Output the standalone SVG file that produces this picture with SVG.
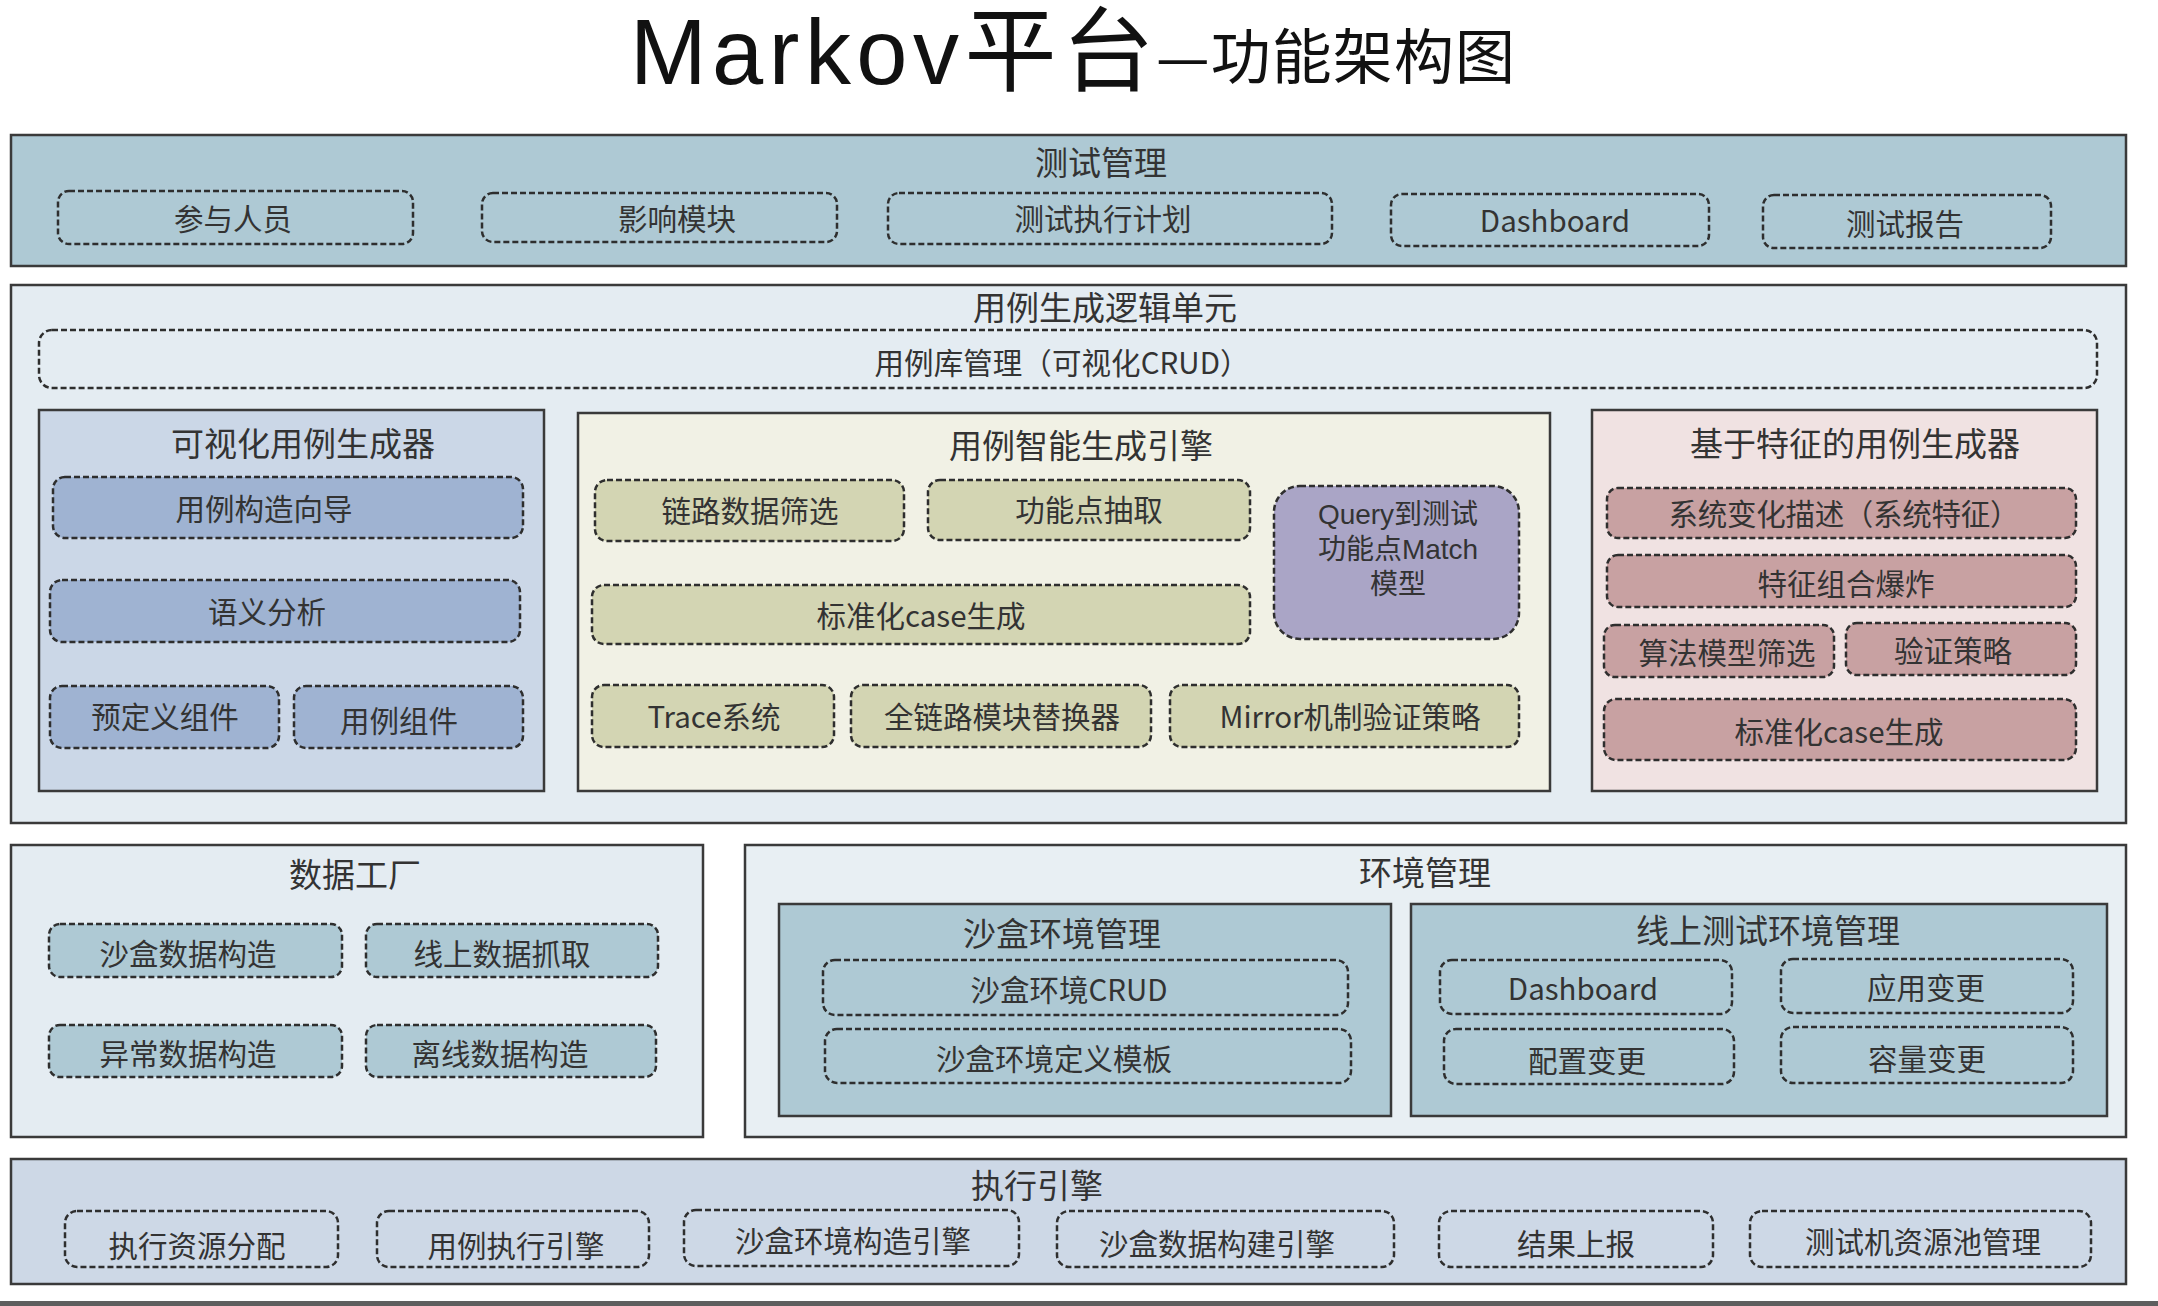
<svg xmlns="http://www.w3.org/2000/svg" width="2158" height="1306" viewBox="0 0 2158 1306">
<style>
.sec{stroke:#3a3a3a;stroke-width:2.5}
.it{stroke:#2e2e2e;stroke-width:2.5;stroke-dasharray:6 3}
.t{font-family:"Noto Sans CJK SC","Noto Sans",sans-serif;fill:#333;text-anchor:middle;dominant-baseline:central}
.h{font-size:33px}
.i{font-size:29.5px}
.q{font-size:28px;font-family:"Liberation Sans","Noto Sans CJK SC",sans-serif}
.blue{fill:#aec9d4}
.lite{fill:#e4ecf2}
.vb{fill:#9fb3d2}
.ol{fill:#d3d5b3}
.pk{fill:#c8a1a2}
.none{fill:none}
</style>
<rect x="0" y="0" width="2158" height="1306" fill="#ffffff"/>
<g id="title">
<text x="630" y="84" font-family="'Liberation Sans','Noto Sans CJK SC',sans-serif" font-size="92" fill="#111" textLength="524">Markov平台</text>
<text x="1156" y="79" font-family="'Noto Sans CJK SC','Noto Sans',sans-serif" font-size="60" fill="#111" textLength="359">—功能架构图</text>
</g>

<g id="test-mgmt">
<rect class="sec blue" x="11" y="135" width="2115" height="131"/>
<text class="t h" x="1101" y="161">测试管理</text>
<g id="tm-1"><rect class="it none" x="58" y="191" width="355" height="53" rx="11"/><text class="t i" x="233" y="217">参与人员</text></g>
<g id="tm-2"><rect class="it none" x="482" y="193" width="355" height="49" rx="11"/><text class="t i" x="677" y="217">影响模块</text></g>
<g id="tm-3"><rect class="it none" x="888" y="193" width="444" height="51" rx="11"/><text class="t i" x="1103" y="217">测试执行计划</text></g>
<g id="tm-4"><rect class="it none" x="1391" y="194" width="318" height="52" rx="11"/><text class="t i" x="1555" y="219">Dashboard</text></g>
<g id="tm-5"><rect class="it none" x="1763" y="195" width="288" height="53" rx="11"/><text class="t i" x="1905" y="222">测试报告</text></g>
</g>

<g id="case-gen">
<rect class="sec lite" x="11" y="285" width="2115" height="538"/>
<text class="t h" x="1105" y="306">用例生成逻辑单元</text>
<g id="case-lib"><rect class="it none" x="39" y="330" width="2058" height="58" rx="13"/><text class="t i" x="1062" y="361" textLength="375">用例库管理（可视化CRUD）</text></g>

<g id="visual-gen">
<rect class="sec" fill="#cbd7e7" x="39" y="410" width="505" height="381"/>
<text class="t h" x="303" y="442">可视化用例生成器</text>
<g id="vg-1"><rect class="it vb" x="53" y="477" width="470" height="61" rx="12"/><text class="t i" x="264" y="507">用例构造向导</text></g>
<g id="vg-2"><rect class="it vb" x="50" y="580" width="470" height="62" rx="12"/><text class="t i" x="267" y="610">语义分析</text></g>
<g id="vg-3"><rect class="it vb" x="50" y="686" width="229" height="62" rx="12"/><text class="t i" x="165" y="715">预定义组件</text></g>
<g id="vg-4"><rect class="it vb" x="294" y="686" width="229" height="62" rx="12"/><text class="t i" x="399" y="719">用例组件</text></g>
</g>

<g id="smart-gen">
<rect class="sec" fill="#f1f1e5" x="578" y="413" width="972" height="378"/>
<text class="t h" x="1081" y="444">用例智能生成引擎</text>
<g id="sg-1"><rect class="it ol" x="595" y="480" width="309" height="61" rx="12"/><text class="t i" x="750" y="509">链路数据筛选</text></g>
<g id="sg-2"><rect class="it ol" x="928" y="480" width="322" height="60" rx="12"/><text class="t i" x="1089" y="508">功能点抽取</text></g>
<g id="sg-3"><rect class="it ol" x="592" y="585" width="658" height="59" rx="12"/><text class="t i" x="921" y="614">标准化case生成</text></g>
<g id="sg-4"><rect class="it" fill="#aaa5c6" x="1274" y="486" width="245" height="153" rx="26"/>
<text class="t q" x="1398" y="514"><tspan x="1398" y="514">Query到测试</tspan><tspan x="1398" y="549">功能点Match</tspan><tspan x="1398" y="584">模型</tspan></text></g>
<g id="sg-5"><rect class="it ol" x="592" y="685" width="242" height="62" rx="12"/><text class="t i" x="714" y="715">Trace系统</text></g>
<g id="sg-6"><rect class="it ol" x="851" y="685" width="300" height="62" rx="12"/><text class="t i" x="1002" y="715">全链路模块替换器</text></g>
<g id="sg-7"><rect class="it ol" x="1170" y="685" width="349" height="62" rx="12"/><text class="t i" x="1350" y="715">Mirror机制验证策略</text></g>
</g>

<g id="feature-gen">
<rect class="sec" fill="#f0e2e2" x="1592" y="410" width="505" height="381"/>
<text class="t h" x="1855" y="442">基于特征的用例生成器</text>
<g id="fg-1"><rect class="it pk" x="1607" y="488" width="469" height="50" rx="11"/><text class="t i" x="1844" y="512" textLength="351">系统变化描述（系统特征）</text></g>
<g id="fg-2"><rect class="it pk" x="1607" y="555" width="469" height="52" rx="11"/><text class="t i" x="1846" y="582">特征组合爆炸</text></g>
<g id="fg-3"><rect class="it pk" x="1604" y="625" width="230" height="52" rx="11"/><text class="t i" x="1727" y="651">算法模型筛选</text></g>
<g id="fg-4"><rect class="it pk" x="1846" y="623" width="230" height="52" rx="11"/><text class="t i" x="1953" y="649">验证策略</text></g>
<g id="fg-5"><rect class="it pk" x="1604" y="699" width="472" height="61" rx="12"/><text class="t i" x="1839" y="730">标准化case生成</text></g>
</g>
</g>

<g id="data-factory">
<rect class="sec lite" x="11" y="845" width="692" height="292"/>
<text class="t h" x="355" y="873">数据工厂</text>
<g id="df-1"><rect class="it blue" x="49" y="924" width="293" height="53" rx="11"/><text class="t i" x="188" y="952">沙盒数据构造</text></g>
<g id="df-2"><rect class="it blue" x="366" y="924" width="292" height="53" rx="11"/><text class="t i" x="502" y="952">线上数据抓取</text></g>
<g id="df-3"><rect class="it blue" x="49" y="1025" width="293" height="52" rx="11"/><text class="t i" x="188" y="1052">异常数据构造</text></g>
<g id="df-4"><rect class="it blue" x="366" y="1025" width="290" height="52" rx="11"/><text class="t i" x="500" y="1052">离线数据构造</text></g>
</g>

<g id="env-mgmt">
<rect class="sec" fill="#e8eff3" x="745" y="845" width="1381" height="292"/>
<text class="t h" x="1425" y="871">环境管理</text>
<g id="sandbox-env">
<rect class="sec blue" x="779" y="904" width="612" height="212"/>
<text class="t h" x="1062" y="932">沙盒环境管理</text>
<g id="se-1"><rect class="it none" x="823" y="960" width="525" height="55" rx="12"/><text class="t i" x="1069" y="988">沙盒环境CRUD</text></g>
<g id="se-2"><rect class="it none" x="825" y="1029" width="526" height="54" rx="12"/><text class="t i" x="1054" y="1057">沙盒环境定义模板</text></g>
</g>
<g id="online-env">
<rect class="sec blue" x="1411" y="904" width="696" height="212"/>
<text class="t h" x="1768" y="929">线上测试环境管理</text>
<g id="oe-1"><rect class="it none" x="1440" y="960" width="292" height="54" rx="12"/><text class="t i" x="1583" y="987">Dashboard</text></g>
<g id="oe-2"><rect class="it none" x="1781" y="959" width="292" height="54" rx="12"/><text class="t i" x="1926" y="986">应用变更</text></g>
<g id="oe-3"><rect class="it none" x="1444" y="1029" width="290" height="55" rx="12"/><text class="t i" x="1587" y="1059">配置变更</text></g>
<g id="oe-4"><rect class="it none" x="1781" y="1027" width="292" height="56" rx="12"/><text class="t i" x="1927" y="1057">容量变更</text></g>
</g>
</g>

<g id="exec-engine">
<rect class="sec" fill="#cdd8e6" x="11" y="1159" width="2115" height="125"/>
<text class="t h" x="1037" y="1184">执行引擎</text>
<g id="ee-1"><rect class="it none" x="65" y="1211" width="273" height="56" rx="12"/><text class="t i" x="197" y="1244">执行资源分配</text></g>
<g id="ee-2"><rect class="it none" x="377" y="1211" width="272" height="56" rx="12"/><text class="t i" x="516" y="1244">用例执行引擎</text></g>
<g id="ee-3"><rect class="it none" x="684" y="1210" width="335" height="56" rx="12"/><text class="t i" x="853" y="1239">沙盒环境构造引擎</text></g>
<g id="ee-4"><rect class="it none" x="1057" y="1211" width="337" height="56" rx="12"/><text class="t i" x="1217" y="1242">沙盒数据构建引擎</text></g>
<g id="ee-5"><rect class="it none" x="1439" y="1211" width="274" height="56" rx="12"/><text class="t i" x="1576" y="1242">结果上报</text></g>
<g id="ee-6"><rect class="it none" x="1750" y="1211" width="341" height="56" rx="12"/><text class="t i" x="1923" y="1240">测试机资源池管理</text></g>
</g>

<g id="connectors"></g>
<rect x="0" y="1301" width="2158" height="5" fill="#5e5e5e"/>
</svg>
